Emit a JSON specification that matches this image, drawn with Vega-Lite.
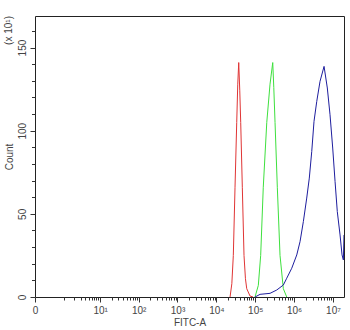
{
  "$schema": "https://vega.github.io/schema/vega-lite/v6.json",
  "width": 309,
  "height": 281,
  "autosize": {"type": "none"},
  "padding": {"left": 35, "top": 16, "right": 6, "bottom": 33},
  "background": "white",
  "config": {
    "view": {"stroke": "#222", "strokeWidth": 1},
    "font": "Liberation Sans",
    "axis": {"domain": false, "grid": false, "labelFontSize": 10, "labelColor": "#444", "tickColor": "#333", "titleFontWeight": "normal", "titleFontSize": 10, "titleColor": "#444", "labelOverlap": false, "labelBound": false, "labelFlush": false}
  },
  "encoding": {
    "x": {
      "field": "fitc", "type": "quantitative",
      "scale": {"type": "symlog", "constant": 0.216, "domain": [0, 19200000], "nice": false},
      "axis": {
        "title": "FITC-A",
        "values": [0,1,2,3,4,5,6,7,8,9,10,20,30,40,50,60,70,80,90,100,200,300,400,500,600,700,800,900,1000,2000,3000,4000,5000,6000,7000,8000,9000,10000,20000,30000,40000,50000,60000,70000,80000,90000,100000,200000,300000,400000,500000,600000,700000,800000,900000,1000000,2000000,3000000,4000000,5000000,6000000,7000000,8000000,9000000,10000000],
        "labelExpr": "datum.value == 0 ? '0' : (datum.value >= 10 && abs(log(datum.value)/LN10 - round(log(datum.value)/LN10)) < 0.000001 ? '10' + ['⁰','¹','²','³','⁴','⁵','⁶','⁷'][round(log(datum.value)/LN10)] : '')",
        "tickSize": {"condition": {"test": "datum.value == 0 || (datum.value >= 10 && abs(log(datum.value)/LN10 - round(log(datum.value)/LN10)) < 0.000001)", "value": 5}, "value": 3},
        "labelPadding": 3,
        "titlePadding": 2
      }
    },
    "y": {
      "field": "count", "type": "quantitative",
      "scale": {"domain": [0, 169], "nice": false},
      "axis": {
        "title": "Count",
        "values": [0,10,20,30,40,50,60,70,80,90,100,110,120,130,140,150,160],
        "labelExpr": "datum.value % 50 == 0 ? datum.label : ''",
        "labelAngle": 270,
        "tickSize": {"condition": {"test": "datum.value % 50 == 0", "value": 5}, "value": 3.5},
        "labelPadding": 3,
        "titlePadding": 3
      }
    }
  },
  "layer": [
    {
      "data": {"values": [
        {"sample": "Control", "fitc": 22500, "count": 0},
        {"sample": "Control", "fitc": 25000, "count": 8},
        {"sample": "Control", "fitc": 27300, "count": 25},
        {"sample": "Control", "fitc": 30200, "count": 66},
        {"sample": "Control", "fitc": 33400, "count": 105},
        {"sample": "Control", "fitc": 35500, "count": 128},
        {"sample": "Control", "fitc": 37600, "count": 141},
        {"sample": "Control", "fitc": 40000, "count": 124},
        {"sample": "Control", "fitc": 42300, "count": 105},
        {"sample": "Control", "fitc": 46500, "count": 66},
        {"sample": "Control", "fitc": 51400, "count": 25},
        {"sample": "Control", "fitc": 56000, "count": 11},
        {"sample": "Control", "fitc": 60400, "count": 5},
        {"sample": "Control", "fitc": 73400, "count": 0.6},
        {"sample": "Control", "fitc": 87700, "count": 0},
        {"sample": "Isotype", "fitc": 98700, "count": 0},
        {"sample": "Isotype", "fitc": 120000, "count": 7},
        {"sample": "Isotype", "fitc": 138000, "count": 25},
        {"sample": "Isotype", "fitc": 161000, "count": 66},
        {"sample": "Isotype", "fitc": 198000, "count": 105},
        {"sample": "Isotype", "fitc": 240000, "count": 128},
        {"sample": "Isotype", "fitc": 282000, "count": 141},
        {"sample": "Isotype", "fitc": 300000, "count": 126},
        {"sample": "Isotype", "fitc": 323000, "count": 105},
        {"sample": "Isotype", "fitc": 370000, "count": 66},
        {"sample": "Isotype", "fitc": 434000, "count": 25},
        {"sample": "Isotype", "fitc": 528000, "count": 5},
        {"sample": "Isotype", "fitc": 646000, "count": 0},
        {"sample": "Sample", "fitc": 98700, "count": 0},
        {"sample": "Sample", "fitc": 133000, "count": 1.6},
        {"sample": "Sample", "fitc": 240000, "count": 2.2},
        {"sample": "Sample", "fitc": 357000, "count": 4.2},
        {"sample": "Sample", "fitc": 528000, "count": 7.2},
        {"sample": "Sample", "fitc": 646000, "count": 11.3},
        {"sample": "Sample", "fitc": 869000, "count": 17.3},
        {"sample": "Sample", "fitc": 1170000, "count": 25.3},
        {"sample": "Sample", "fitc": 1420000, "count": 33.3},
        {"sample": "Sample", "fitc": 1730000, "count": 45.4},
        {"sample": "Sample", "fitc": 2110000, "count": 59.5},
        {"sample": "Sample", "fitc": 2460000, "count": 71.5},
        {"sample": "Sample", "fitc": 2840000, "count": 87.5},
        {"sample": "Sample", "fitc": 3250000, "count": 105.6},
        {"sample": "Sample", "fitc": 3820000, "count": 117.6},
        {"sample": "Sample", "fitc": 4640000, "count": 129.7},
        {"sample": "Sample", "fitc": 5890000, "count": 138.7},
        {"sample": "Sample", "fitc": 7150000, "count": 125.7},
        {"sample": "Sample", "fitc": 8390000, "count": 109.6},
        {"sample": "Sample", "fitc": 9840000, "count": 89.6},
        {"sample": "Sample", "fitc": 11300000, "count": 69.5},
        {"sample": "Sample", "fitc": 12900000, "count": 51.4},
        {"sample": "Sample", "fitc": 15200000, "count": 37.3},
        {"sample": "Sample", "fitc": 17100000, "count": 25.3},
        {"sample": "Sample", "fitc": 18500000, "count": 22.3},
        {"sample": "Sample", "fitc": 19200000, "count": 37.3}
      ]},
      "mark": {"type": "line", "strokeWidth": 1, "clip": true},
      "encoding": {
        "color": {
          "field": "sample", "type": "nominal",
          "scale": {"domain": ["Control", "Isotype", "Sample"], "range": ["#e03535", "#3ee03e", "#1e1e9e"]},
          "legend": null
        }
      }
    },
    {
      "data": {"values": [{"label": "(x 10¹)", "fitc": 0, "count": 169}]},
      "mark": {"type": "text", "angle": 270, "align": "right", "baseline": "middle", "dy": -26, "fontSize": 10, "color": "#444", "clip": false},
      "encoding": {
        "text": {"field": "label"}
      }
    }
  ]
}
